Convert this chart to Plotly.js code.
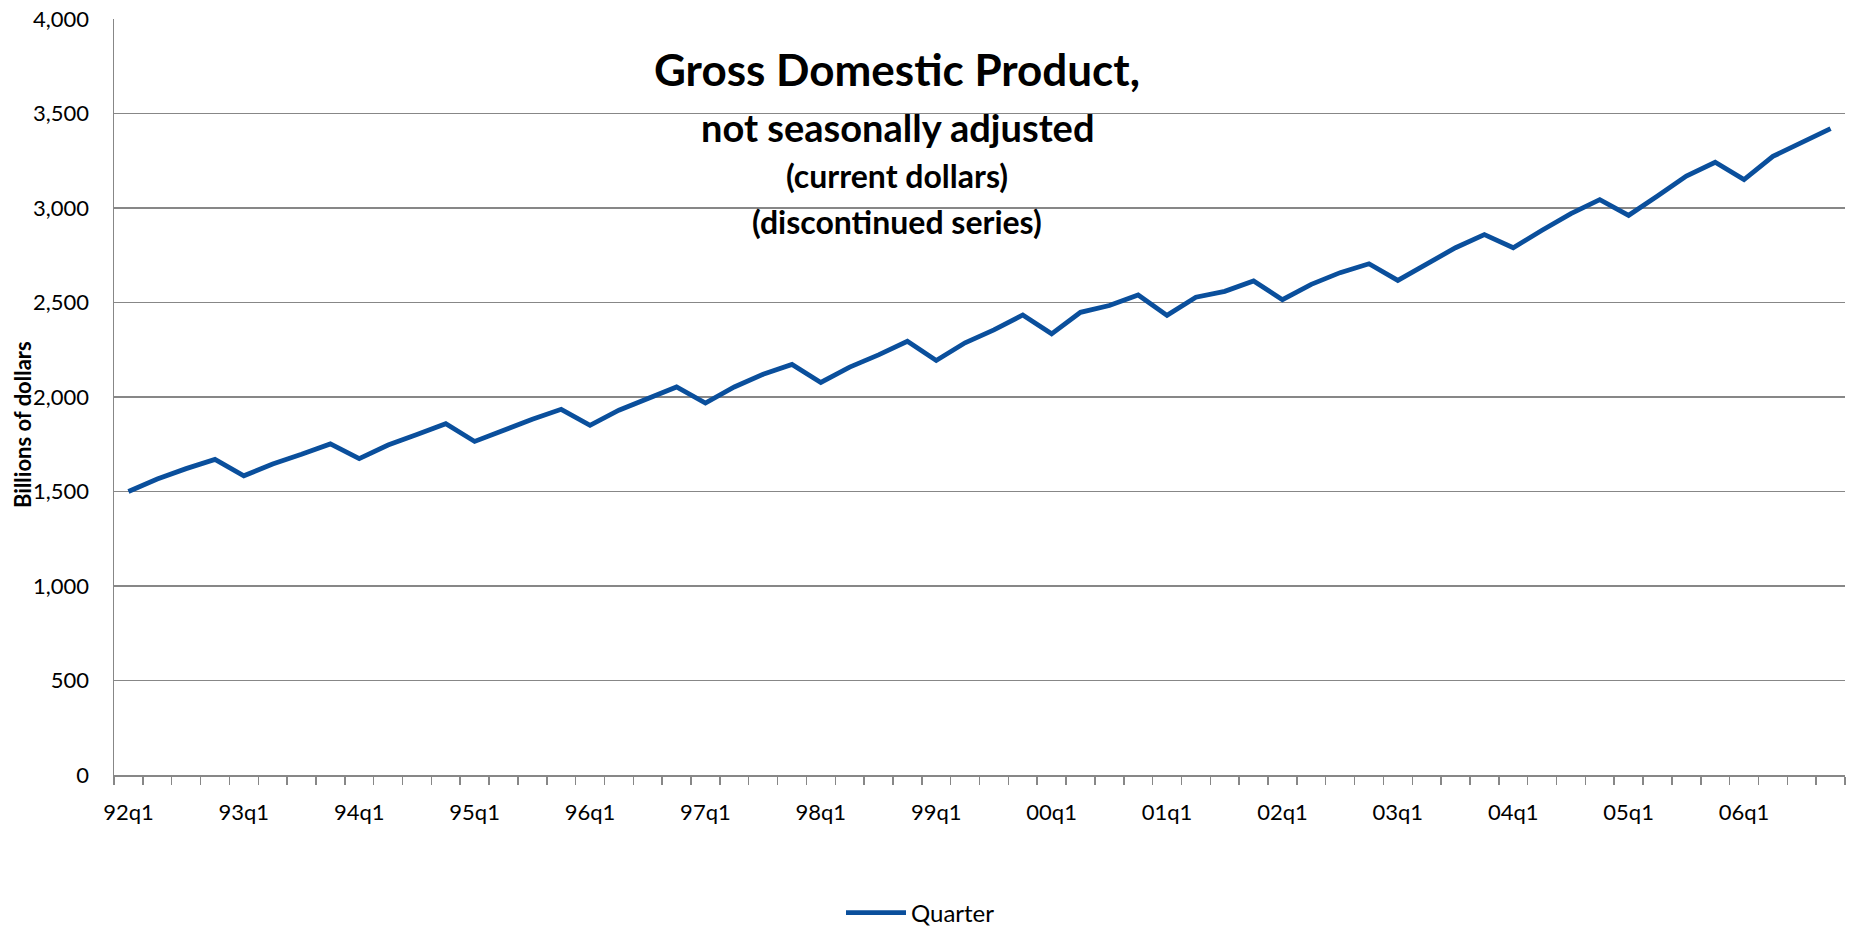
<!DOCTYPE html>
<html>
<head>
<meta charset="utf-8">
<script src="https://cdn.plot.ly/plotly-3.0.1.min.js"></script>
<style>
  html, body { margin: 0; padding: 0; background: #ffffff; }
  #chart { width: 1853px; height: 926px; }
</style>
</head>
<body>
<div id="chart"></div>
<script>
// ---- Data ----
const quarters = [
  '92q1','92q2','92q3','92q4','93q1','93q2','93q3','93q4',
  '94q1','94q2','94q3','94q4','95q1','95q2','95q3','95q4',
  '96q1','96q2','96q3','96q4','97q1','97q2','97q3','97q4',
  '98q1','98q2','98q3','98q4','99q1','99q2','99q3','99q4',
  '00q1','00q2','00q3','00q4','01q1','01q2','01q3','01q4',
  '02q1','02q2','02q3','02q4','03q1','03q2','03q3','03q4',
  '04q1','04q2','04q3','04q4','05q1','05q2','05q3','05q4',
  '06q1','06q2','06q3','06q4'
];
const gdp = [
  1500, 1566, 1621, 1670, 1583, 1646, 1697, 1752,
  1674, 1746, 1801, 1859, 1765, 1825, 1882, 1935,
  1850, 1930, 1991, 2053, 1968, 2053, 2120, 2172,
  2077, 2158, 2223, 2295, 2193, 2287, 2355, 2434,
  2334, 2448, 2484, 2540, 2432, 2528, 2559, 2614,
  2515, 2596, 2658, 2705, 2617, 2702, 2790, 2859,
  2790, 2882, 2970, 3044, 2961, 3063, 3169, 3242,
  3150, 3273, 3346, 3420
];
const tickLabels = ['92q1','93q1','94q1','95q1','96q1','97q1','98q1',
                    '99q1','00q1','01q1','02q1','03q1','04q1','05q1','06q1'];
const seriesName = 'Quarter';
const titleLines = ['Gross Domestic Product,', 'not seasonally adjusted',
                    '(current dollars)', '(discontinued series)'];
const yTitle = 'Billions of dollars';

// ---- Layout helpers ----
const W = 1853, H = 926;
const M = { l: 114, r: 8, t: 19, b: 151 };
const PW = W - M.l - M.r, PH = H - M.t - M.b;
const px = x => (x - M.l) / PW;          // pixel x -> paper x
const py = y => (H - M.b - y) / PH;      // pixel y -> paper y

const FONT = 'Lato, "Open Sans", sans-serif';
const GRID = '#878787';
const LINE = '#0a4f9c';

const tickText = quarters.map(q => tickLabels.includes(q) ? q : '');

const traces = [{
  type: 'scatter',
  mode: 'lines',
  x: quarters,
  y: gdp,
  name: seriesName,
  line: { color: LINE, width: 4.8 },
  hoverinfo: 'x+y'
}];

const layout = {
  width: W, height: H,
  paper_bgcolor: '#ffffff',
  plot_bgcolor: '#ffffff',
  margin: { l: M.l, r: M.r, t: M.t, b: M.b, autoexpand: false },
  font: { family: FONT, color: '#000000' },
  title: {
    text: '<b>' + titleLines[0] + '</b>',
    font: { family: FONT, size: 44, color: '#000000' },
    xref: 'paper', x: px(897), xanchor: 'center',
    yref: 'container', y: 1 - 71 / H, yanchor: 'middle'
  },
  xaxis: {
    type: 'category',
    categoryorder: 'array',
    categoryarray: quarters,
    range: [-0.5, quarters.length - 0.5],
    tickmode: 'array',
    tickvals: quarters,
    ticktext: tickText,
    tickson: 'boundaries',
    ticks: 'outside',
    ticklen: 8,
    tickwidth: 1.5,
    tickcolor: GRID,
    showline: true,
    linecolor: GRID,
    linewidth: 1.5,
    showgrid: false,
    zeroline: false,
    tickangle: 0,
    ticklabelstandoff: 17,
    tickfont: { family: FONT, size: 22, color: '#000000' },
    fixedrange: true
  },
  xaxis2: {
    overlaying: 'x',
    anchor: 'y',
    side: 'bottom',
    type: 'linear',
    range: [-0.5, quarters.length - 0.5],
    tickmode: 'linear',
    tick0: -0.5,
    dtick: 1,
    ticks: 'inside',
    ticklen: 8,
    tickwidth: 1.5,
    tickcolor: GRID,
    showticklabels: false,
    showgrid: false,
    zeroline: false,
    showline: false,
    fixedrange: true
  },
  yaxis: {
    range: [0, 4000],
    tickmode: 'linear',
    tick0: 0,
    dtick: 500,
    tickformat: ',d',
    ticks: '',
    showline: true,
    linecolor: GRID,
    linewidth: 1.5,
    showgrid: true,
    gridcolor: GRID,
    gridwidth: 1.3,
    zeroline: false,
    ticklabelstandoff: 19,
    tickfont: { family: FONT, size: 22, color: '#000000' },
    fixedrange: true
  },
  showlegend: true,
  legend: {
    orientation: 'h',
    x: px(841), xanchor: 'left',
    y: py(913), yanchor: 'middle',
    itemwidth: 60,
    font: { family: FONT, size: 24, color: '#000000' },
    bgcolor: 'rgba(0,0,0,0)',
    borderwidth: 0
  },
  annotations: [
    { text: '<b>' + titleLines[1] + '</b>', xref: 'paper', yref: 'paper',
      x: px(897), y: py(127), xanchor: 'center', yanchor: 'middle', showarrow: false,
      font: { family: FONT, size: 38, color: '#000000' } },
    { text: '<b>' + titleLines[2] + '</b>', xref: 'paper', yref: 'paper',
      x: px(897), y: py(175), xanchor: 'center', yanchor: 'middle', showarrow: false,
      font: { family: FONT, size: 32, color: '#000000' } },
    { text: '<b>' + titleLines[3] + '</b>', xref: 'paper', yref: 'paper',
      x: px(897), y: py(221), xanchor: 'center', yanchor: 'middle', showarrow: false,
      font: { family: FONT, size: 32, color: '#000000' } },
    { text: '<b>' + yTitle + '</b>', xref: 'paper', yref: 'paper',
      x: px(23), y: py(425), xanchor: 'center', yanchor: 'middle', showarrow: false,
      textangle: -90,
      font: { family: FONT, size: 22, color: '#000000' } }
  ]
};

Plotly.newPlot('chart', traces, layout, { displayModeBar: false, staticPlot: true });
</script>
</body>
</html>
